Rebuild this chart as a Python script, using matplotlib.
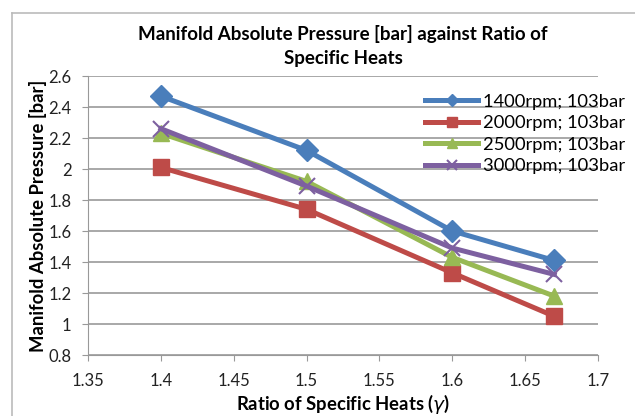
import matplotlib
matplotlib.use('Agg')
import matplotlib.pyplot as plt
from matplotlib.lines import Line2D

plt.rcParams['font.family'] = ['Lato', 'DejaVu Sans']

# Ratio of specific heats
gamma = [1.4, 1.5, 1.6, 1.67]

p_1400 = [2.47, 2.12, 1.60, 1.41]
p_2000 = [2.01, 1.74, 1.33, 1.05]
p_2500 = [2.23, 1.92, 1.43, 1.18]
p_3000 = [2.26, 1.89, 1.49, 1.32]

labels = ['1400rpm; 103bar', '2000rpm; 103bar', '2500rpm; 103bar', '3000rpm; 103bar']

fig = plt.figure(figsize=(6.35, 4.16), dpi=100)
ax = fig.add_axes([0.1386, 0.1466, 0.8031, 0.6707])

# chart frame like the excel border
fig.add_artist(Line2D([12/635, 1.0], [1-13/416, 1-13/416], color='#bbbbbb', lw=1.2, transform=fig.transFigure))
fig.add_artist(Line2D([12/635, 12/635], [0, 1-13/416], color='#bbbbbb', lw=1.2, transform=fig.transFigure))

series = [
  (p_1400, '#4A7EBB', 'D', 11),
  (p_2000, '#BE4B48', 's', 12),
  (p_2500, '#98B954', '^', 12),
  (p_3000, '#7D60A0', 'x', 12),
]
for (vals, col, mk, ms), lab in zip(series, labels):
  if mk == 'x':
    ax.plot(gamma, vals, color=col, lw=3.6, marker=mk, ms=ms, mew=1.5, label=lab)
  else:
    ax.plot(gamma, vals, color=col, lw=3.6, marker=mk, ms=ms, mec=col, label=lab)

ax.set_xlim(1.35, 1.7)
ax.set_ylim(0.8, 2.6)
ax.set_xticks([1.35, 1.4, 1.45, 1.5, 1.55, 1.6, 1.65, 1.7])
ax.set_xticklabels(['1.35', '1.4', '1.45', '1.5', '1.55', '1.6', '1.65', '1.7'])
ax.set_yticks([0.8, 1, 1.2, 1.4, 1.6, 1.8, 2, 2.2, 2.4, 2.6])
ax.set_yticklabels(['0.8', '1', '1.2', '1.4', '1.6', '1.8', '2', '2.2', '2.4', '2.6'])
ax.yaxis.grid(True, color='#999999', lw=1.2)
ax.set_axisbelow(True)
for s in ['top', 'right']:
  ax.spines[s].set_visible(False)
ax.spines['left'].set_color('#999999')
ax.spines['bottom'].set_color('#999999')
ax.tick_params(colors='#999999', labelcolor='#222222', labelsize=12, length=4)
ax.tick_params(axis='x', pad=9)
ax.tick_params(axis='y', pad=8)

ax.set_xlabel('Ratio of Specific Heats ($\\gamma$)', fontsize=13.3, fontweight='bold', labelpad=2)
ax.set_ylabel('Manifold Absolute Pressure [bar]', fontsize=13.3, fontweight='bold', labelpad=1)
ax.set_title('Manifold Absolute Pressure [bar] against Ratio of\nSpecific Heats', fontsize=13.5, fontweight='bold', linespacing=1.5, pad=9)

ax.legend(loc='upper right', bbox_to_anchor=(1.085, 0.995), frameon=False, fontsize=13.2, handlelength=2.9, handletextpad=0.25, labelspacing=0.3, markerscale=0.55)

fig.savefig('out.png', dpi=100)
